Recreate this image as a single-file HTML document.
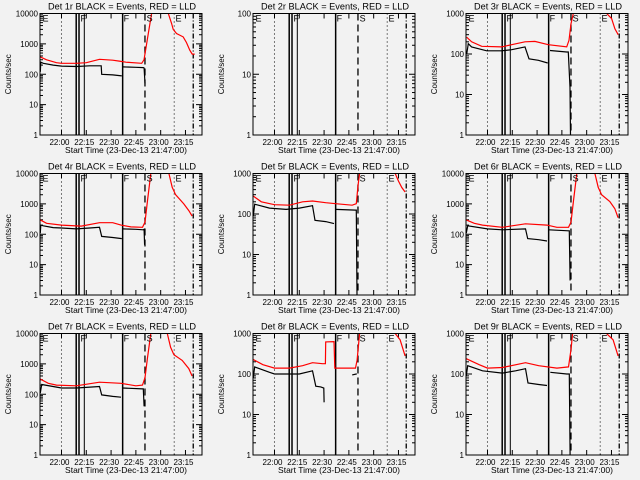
<!DOCTYPE html>
<html><head><meta charset="utf-8">
<style>
html,body{margin:0;padding:0;background:#f2f2f2;}
svg{display:block;font-family:"Liberation Sans",sans-serif;}
</style></head>
<body>
<svg id="chart" width="640" height="480" viewBox="0 0 640 480">
<rect x="0" y="0" width="640" height="480" fill="#f2f2f2"/>
</svg>
<script>
// ---- data ----
const detectors = ['1r','2r','3r','4r','5r','6r','7r','8r','9r'];
const yMaxDecade = [4,2,3,4,3,4,4,3,3];
const xTickLabels = ['22:00','22:15','22:30','22:45','23:00','23:15'];
const xTickMinutes = [13,28,43,58,73,88];
const solidThickTimes = [21.9,23.6,50];
const solidThinTimes = [26.8];
const dottedTimes = [13,81.2];
const dashedTimes = [63.5];
const dashDotTimes = [92.7];
const markerLetters = ['E','F','F','S','E'];
const markerTimes = [1.5,24.5,50.6,64.5,82];

const blackT = [
 [0.2,0.5,2,8,13,22,30,37,37.3,44,49.5,50,50,58,62.5,63,63.5],
 [],
 [0.4,1.4,3.4,12.5,21.6,27.6,35.7,38.1,43.8,49.4,50,50.8,60.9,61.9,62.9,63.2],
 [0.2,0.5,2,8,13,22,30,36,37.3,44,49.5,50,50,58,62.5,63,63.3],
 [0.2,1,10,20,28,36,37.5,44,49,50,50,62,62.5,62.9],
 [0.2,1,13,22,36,37.3,44,49,50,50,62,62.5,63],
 [0.2,1,13,22,36,37.3,44,49,50,50,62,62.5,63],
 [0.2,1,10,13,28,36,38,41,42.8,43,43.5,50,50,60,62.5,62.8],
 [0.2,1,10,22,30,36,37.5,44,49,50,51,61,62.5,63]
];
const blackV = [
 [120,250,230,200,185,180,190,190,100,95,88,null,175,170,165,160,50],
 [],
 [100,180,150,120,120,128,150,76,70,60,null,122,112,112,15,1],
 [110,200,190,165,160,150,160,170,85,78,72,null,150,145,140,145,45],
 [90,175,140,130,140,160,70,65,58,null,130,125,125,1],
 [110,190,150,140,150,72,66,60,null,140,130,130,3],
 [110,210,160,160,180,95,85,80,null,160,150,150,40],
 [80,150,110,100,100,120,50,48,45,20,null,null,null,95,100,100],
 [90,160,120,105,120,135,60,55,52,null,110,100,100,1]
];
const redT = [
 [0,4,10,13,22,28,36,44,48,52,61.5,62.9,63.9,65.5,67.5,70,75,77.6,79.6,80.6,82.6,86.6,88.6,90.6,92.1,93.6],
 [],
 [0.4,3.4,9.5,21.6,27.6,35.7,41.7,49.8,60.9,62.3,63.5,64.9,70,80,85.1,88.1,90.1,92.1],
 [0,4,13,25,36,44,49,55,62,63.5,65,67,70,75,78,80,82,87,90,92],
 [0,5,13,22,30,36,44,50,60,62.5,63.5,64.5,70,80,86,88,90,92],
 [0,5,10,22,36,49,55,62,63.5,65,67,70,75,78,80,82,87,90,92],
 [0,5,10,22,36,49,58,62,63.5,65,67,70,75,77,79,81,86,90,92],
 [0,6,13,22,30,36,42,43.8,44,49,49.5,51,62,63,64.5,70,80,86,89,92],
 [0,8,13,22,36,44,55,62,63.5,64.5,70,80,85,89,92]
];
const redV = [
 [375,300,240,230,230,240,310,290,270,250,230,300,620,2200,10000,30000,30000,10000,4700,3000,2200,1700,1100,620,460,460],
 [],
 [260,200,155,150,170,200,205,170,150,218,560,1000,3000,3000,1000,750,420,300],
 [300,230,200,185,240,240,200,175,170,250,1200,10000,30000,30000,10000,3500,2000,1000,600,400],
 [280,200,170,165,200,210,190,180,165,180,500,1000,3000,3000,1000,650,450,350],
 [300,230,200,170,220,200,170,170,250,1200,10000,30000,30000,10000,3500,2000,1200,700,350],
 [320,230,200,190,250,230,190,200,350,1500,10000,30000,30000,10000,3500,2000,1300,700,400],
 [230,170,140,140,160,190,180,180,620,630,140,140,140,220,1000,3000,3000,1000,700,280],
 [240,170,140,145,190,160,140,150,400,1000,3000,3000,1000,700,280]
];

// ---- layout ----
const NS='http://www.w3.org/2000/svg';
const svg=document.getElementById('chart');
const colX=[0,213,426], rowY=[0,160,320];
const PL=40, PW=162, PT=13.5, PH=121.5;
const TMAX=98;
function mk(tag,attrs,parent){const e=document.createElementNS(NS,tag);for(const k in attrs)e.setAttribute(k,attrs[k]);(parent||svg).appendChild(e);return e;}

detectors.forEach((det,i)=>{
  const ox=colX[i%3], oy=rowY[Math.floor(i/3)];
  const L=ox+PL, T=oy+PT, R=L+PW, B=T+PH;
  const dec=yMaxDecade[i];
  const xs=t=>L+t/TMAX*PW;
  const ys=v=>B-Math.log10(v)/dec*PH;
  const g=mk('g',{});
  
  
  const cp=mk('clipPath',{id:'clip'+i},g);
  mk('rect',{x:L,y:T,width:PW,height:PH},cp);

  const title=mk('text',{x:L+PW/2+1,y:oy+9.5,'text-anchor':'middle','font-size':'9.2',fill:'#000'},g);
  title.textContent='Det '+det+' BLACK = Events, RED = LLD';
  
  

  const yl=mk('text',{x:0,y:0,'text-anchor':'middle','font-size':'8',fill:'#000',transform:`translate(${ox+11},${(T+B)/2}) rotate(-90)`},g);
  yl.textContent='Counts/sec';
  
  

  const xl=mk('text',{x:L+PW/2+5,y:oy+153,'text-anchor':'middle','font-size':'8.5',fill:'#000'},g);
  xl.textContent='Start Time (23-Dec-13 21:47:00)';
  
  

  for(let d=0;d<=dec;d++){
    const y=ys(Math.pow(10,d));
    mk('line',{x1:L,x2:L+6,y1:y,y2:y,stroke:'#000','stroke-width':1},g);
    mk('line',{x1:R,x2:R-6,y1:y,y2:y,stroke:'#000','stroke-width':1},g);
    const tl=mk('text',{x:L-2,y:y+3,'text-anchor':'end','font-size':'8',fill:'#000'},g);
    tl.textContent=String(Math.pow(10,d));
    
    
    if(d<dec){for(let m=2;m<=9;m++){const ym=ys(m*Math.pow(10,d));
      mk('line',{x1:L,x2:L+3,y1:ym,y2:ym,stroke:'#000','stroke-width':1},g);
      mk('line',{x1:R,x2:R-3,y1:ym,y2:ym,stroke:'#000','stroke-width':1},g);}}
  }
  xTickMinutes.forEach((tm,k)=>{
    const x=xs(tm);
    mk('line',{x1:x,x2:x,y1:B,y2:B-5,stroke:'#000'},g);
    mk('line',{x1:x,x2:x,y1:T,y2:T+5,stroke:'#000'},g);
    const tl=mk('text',{x:x-2,y:oy+145,'text-anchor':'middle','font-size':'8',fill:'#000'},g);
    tl.textContent=xTickLabels[k];
    
    
  });

  const inner=mk('g',{'clip-path':`url(#clip${i})`},g);
  function vline(t,w,dash,name){
    const l=mk('line',{x1:xs(t),x2:xs(t),y1:T,y2:B,stroke:'#000','stroke-width':w,'stroke-dasharray':dash||'none'},inner);
    
    
  }
  dottedTimes.forEach(t=>vline(t,1,'1,3','dotted-marker-line'));
  solidThickTimes.forEach(t=>vline(t,1.5,null,'solid-marker-line'));
  solidThinTimes.forEach(t=>vline(t,1,null,'solid-marker-line'));
  dashedTimes.forEach(t=>vline(t,1.3,'7,4','dashed-marker-line'));
  dashDotTimes.forEach(t=>vline(t,1.3,'5,2,1,2','dash-dot-marker-line'));

  markerLetters.forEach((c,k)=>{
    const tx=mk('text',{x:xs(markerTimes[k]),y:T+8,'font-size':'9',fill:'#000'},g);
    tx.textContent=c;
    
    
  });

  function series(ts,vs,color,name){
    let segs=[],cur=[];
    ts.forEach((t,k)=>{const v=vs[k];if(v==null){if(cur.length)segs.push(cur);cur=[];}else cur.push(xs(t).toFixed(1)+','+ys(v).toFixed(1));});
    if(cur.length)segs.push(cur);
    segs.forEach(s=>{
      const p=mk('polyline',{points:s.join(' '),fill:'none',stroke:color,'stroke-width':1.2},inner);
      
      
    });
  }
  series(redT[i],redV[i],'#ff0000','red-lld-series');
  series(blackT[i],blackV[i],'#000','black-events-series');

  const fr=mk('rect',{x:L,y:T,width:PW,height:PH,fill:'none',stroke:'#000','stroke-width':1},g);
  
  
});
</script>
</body></html>
